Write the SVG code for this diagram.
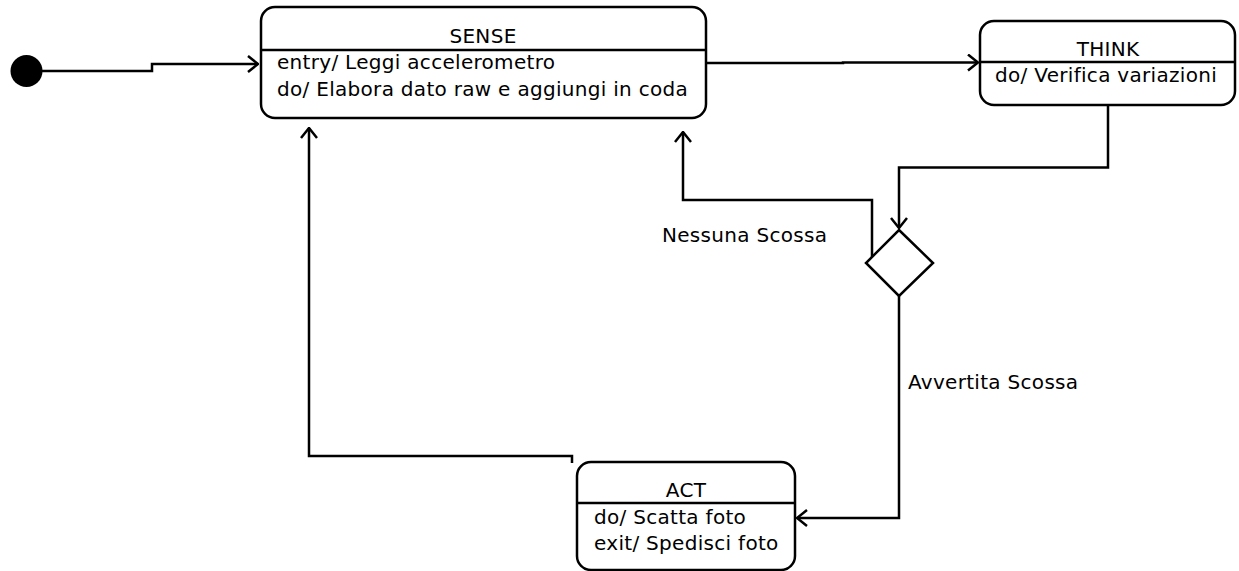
<svg xmlns="http://www.w3.org/2000/svg" width="1239" height="571" viewBox="0 0 1239 571">
  <style>
    .box { fill: #ffffff; stroke: #000000; stroke-width: 2.5; }
    .sep { stroke: #000000; stroke-width: 2.5; }
    .edge { fill: none; stroke: #000000; stroke-width: 2.5; }
    text { font-family: "DejaVu Sans", "Liberation Sans", sans-serif; font-size: 20px; letter-spacing: 0.3px; fill: #000000; }
    .title { text-anchor: middle; }
  </style>
  <defs>
    <marker id="open" viewBox="0 0 12 18" refX="11" refY="9" markerWidth="12" markerHeight="18" markerUnits="userSpaceOnUse" orient="auto">
      <path d="M1,1 L11,9 L1,17" fill="none" stroke="#000000" stroke-width="2.5"/>
    </marker>
  </defs>
  <rect width="1239" height="571" fill="#ffffff"/>

  <!-- transitions -->
  <g id="connectors">
    <path class="edge" d="M42,71 H152 V64 H258" marker-end="url(#open)"/>
    <path class="edge" d="M707,63 H843 V62.5 H978" marker-end="url(#open)"/>
    <path class="edge" d="M1108,105 V167.5 H899 V228" marker-end="url(#open)"/>
    <path class="edge" d="M872,262 V200 H683 V132" marker-end="url(#open)"/>
    <path class="edge" d="M899,296 V518 H797" marker-end="url(#open)"/>
    <path class="edge" d="M572,463 V456 H309 V128" marker-end="url(#open)"/>
    <text x="662" y="242">Nessuna Scossa</text>
    <text x="908" y="389">Avvertita Scossa</text>
  </g>

  <g id="initial">
    <circle cx="26.5" cy="71" r="16" fill="#000000"/>
  </g>

  <g id="sense">
    <rect class="box" x="261" y="7" width="445" height="111" rx="14"/>
    <line class="sep" x1="261" y1="50" x2="706" y2="50"/>
    <text class="title" x="483" y="43">SENSE</text>
    <text x="277" y="69">entry/ Leggi accelerometro</text>
    <text x="277" y="96">do/ Elabora dato raw e aggiungi in coda</text>
  </g>

  <g id="think">
    <rect class="box" x="980" y="21" width="255" height="84" rx="14"/>
    <line class="sep" x1="980" y1="62" x2="1235" y2="62"/>
    <text class="title" x="1108" y="56">THINK</text>
    <text class="title" x="1106" y="82">do/ Verifica variazioni</text>
  </g>

  <g id="choice">
    <polygon class="box" points="899,230 933,263 899,296 866,263"/>
  </g>

  <g id="act">
    <rect class="box" x="577" y="462" width="218" height="108" rx="14"/>
    <line class="sep" x1="577" y1="503" x2="795" y2="503"/>
    <text class="title" x="686" y="497">ACT</text>
    <text x="594" y="524">do/ Scatta foto</text>
    <text x="594" y="550">exit/ Spedisci foto</text>
  </g>
</svg>
